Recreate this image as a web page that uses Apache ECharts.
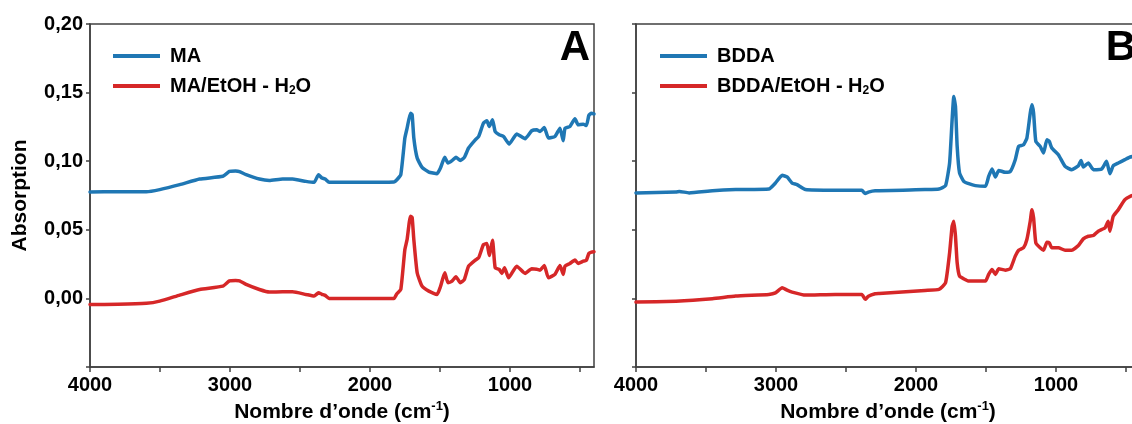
<!DOCTYPE html>
<html>
<head>
<meta charset="utf-8">
<script src="https://cdn.jsdelivr.net/npm/echarts@6/dist/echarts.min.js"></script>
<style>html,body{margin:0;padding:0;background:#fff}#c{width:1132px;height:424px}</style>
</head>
<body>
<div id="c"></div>
<script>
// ---- data (wavenumber cm-1, absorbance) ----
const maX = [4000,3800,3597,3502,3359,3217,3051,3004,2960,2932,2885,2790,2719,2624,2553,2458,2399,2368,2344,2320,2292,2100,2007,1829,1808,1780,1751,1735,1711,1699,1687,1663,1628,1580,1521,1497,1466,1443,1414,1386,1355,1326,1296,1248,1224,1189,1165,1148,1125,1106,1077,1046,1006,952,892,845,809,785,755,726,679,643,620,607,572,536,513,477,454,437,418,400];
const maY = [0.0776,0.0777,0.0777,0.0793,0.0829,0.0870,0.0890,0.0925,0.0928,0.0924,0.0902,0.0870,0.0860,0.0870,0.0870,0.0853,0.0846,0.0902,0.0878,0.0870,0.0846,0.0847,0.0846,0.0848,0.0865,0.0902,0.1169,0.1241,0.1350,0.1338,0.1169,0.1023,0.0955,0.0921,0.0909,0.0950,0.1028,0.0987,0.1004,0.1028,0.1006,0.1028,0.1096,0.1156,0.1180,0.1278,0.1295,0.1253,0.1302,0.1217,0.1193,0.1180,0.1125,0.1198,0.1164,0.1222,0.1229,0.1217,0.1246,0.1169,0.1180,0.1241,0.1149,0.1241,0.1253,0.1309,0.1265,0.1270,0.1260,0.1333,0.1350,0.1345];

const maEtX = [4000,3800,3597,3502,3359,3217,3051,3004,2960,2932,2885,2790,2719,2624,2553,2458,2399,2368,2344,2320,2292,2007,1829,1808,1780,1751,1735,1711,1699,1687,1663,1628,1580,1521,1497,1466,1443,1414,1386,1355,1326,1296,1248,1224,1189,1165,1148,1125,1106,1077,1058,1039,1010,952,892,845,809,785,755,726,679,643,620,607,572,536,513,477,454,437,418,400];
const maEtY = [-0.0044,-0.0043,-0.0036,-0.0020,0.0024,0.0065,0.0089,0.0128,0.0131,0.0128,0.0102,0.0065,0.0046,0.0048,0.0048,0.0029,0.0017,0.0041,0.0030,0.0022,0.0000,0.0000,0.0000,0.0034,0.0065,0.0356,0.0429,0.0599,0.0590,0.0429,0.0187,0.0089,0.0053,0.0029,0.0085,0.0187,0.0114,0.0126,0.0158,0.0114,0.0138,0.0235,0.0279,0.0296,0.0393,0.0400,0.0313,0.0424,0.0223,0.0211,0.0182,0.0223,0.0150,0.0235,0.0182,0.0216,0.0213,0.0206,0.0240,0.0150,0.0175,0.0240,0.0175,0.0235,0.0255,0.0279,0.0255,0.0271,0.0279,0.0327,0.0337,0.0340];

const bdX = [4000,3715,3690,3621,3454,3288,3051,3004,2956,2921,2885,2850,2790,2577,2387,2363,2340,2292,1936,1836,1789,1760,1742,1730,1718,1706,1689,1659,1623,1576,1504,1481,1457,1433,1409,1362,1326,1291,1267,1232,1208,1184,1172,1160,1144,1113,1089,1065,1048,1030,983,935,888,840,821,805,769,733,674,639,615,591,555,508,470,400];
const bdY = [0.0769,0.0776,0.0780,0.0769,0.0785,0.0793,0.0797,0.0841,0.0897,0.0885,0.0841,0.0829,0.0793,0.0788,0.0788,0.0764,0.0775,0.0785,0.0793,0.0797,0.0822,0.0987,0.1302,0.1471,0.1399,0.1108,0.0914,0.0853,0.0836,0.0822,0.0817,0.0889,0.0943,0.0885,0.0933,0.0919,0.0926,0.1011,0.1108,0.1120,0.1169,0.1350,0.1411,0.1350,0.1144,0.1108,0.1060,0.1156,0.1144,0.1096,0.1047,0.0962,0.0938,0.0967,0.1006,0.0958,0.0987,0.0938,0.0943,0.0999,0.0909,0.0967,0.0987,0.1011,0.1031,0.1040];

const bdEtX = [4000,3715,3454,3288,3051,3004,2956,2921,2885,2790,2577,2387,2363,2340,2292,2263,1936,1836,1789,1760,1742,1730,1718,1706,1689,1659,1623,1576,1504,1481,1457,1433,1409,1362,1326,1291,1267,1232,1208,1184,1172,1160,1144,1113,1089,1065,1048,1030,983,935,888,840,805,769,733,698,650,627,615,591,555,508,470,400];
const bdEtY = [-0.0027,-0.0020,-0.0002,0.0017,0.0029,0.0040,0.0078,0.0060,0.0046,0.0024,0.0029,0.0029,-0.0007,0.0015,0.0034,0.0036,0.0058,0.0065,0.0114,0.0332,0.0526,0.0562,0.0453,0.0260,0.0162,0.0143,0.0126,0.0126,0.0126,0.0175,0.0211,0.0175,0.0216,0.0206,0.0216,0.0308,0.0351,0.0369,0.0429,0.0562,0.0647,0.0587,0.0405,0.0369,0.0351,0.0409,0.0405,0.0369,0.0369,0.0351,0.0351,0.0385,0.0434,0.0453,0.0458,0.0490,0.0514,0.0562,0.0490,0.0599,0.0647,0.0720,0.0744,0.0770];

const xLabelValues = [1000,2000,3000,4000];
const xTickValues = [500,1000,1500,2000,2500,3000,3500,4000];
const yMin = -0.05, yMax = 0.20, yStep = 0.05;
const panelLetters = ['A','B'];
const names = ['MA','MA/EtOH - H2O','BDDA','BDDA/EtOH - H2O'];

// ---- chart ----
const FONT = '"Liberation Sans", Arial, sans-serif';
const AX = '#404040';
const BLUE = '#1f77b4', RED = '#d62728';
const zip = (xs, ys) => xs.map((x, i) => [x, ys[i]]);

const chart = echarts.init(document.getElementById('c'), null, {renderer: 'canvas'});

const nameRich = {
  n: {fontFamily: FONT, fontWeight: 'bold', fontSize: 21, color: '#000', lineHeight: 24, verticalAlign: 'middle'},
  sup: {fontFamily: FONT, fontWeight: 'bold', fontSize: 13, color: '#000', lineHeight: 14, verticalAlign: 'top'}
};
const legRich = {
  n: {fontFamily: FONT, fontWeight: 'bold', fontSize: 20, color: '#000', lineHeight: 22, verticalAlign: 'middle'},
  sub: {fontFamily: FONT, fontWeight: 'bold', fontSize: 12, color: '#000', lineHeight: 14, verticalAlign: 'bottom'}
};
const legFmt = n => n.indexOf('H2O') >= 0 ? '{n|' + n.replace('H2O', 'H') + '}{sub|2}{n|O}' : '{n|' + n + '}';

function xAxis(gi) {
  return {
    type: 'value', gridIndex: gi, inverse: true, min: 400, max: 4000,
    name: '{n|Nombre d’onde (cm}{sup|-1}{n|)}', nameLocation: 'middle', nameGap: 33,
    nameTextStyle: {rich: nameRich},
    axisLine: {show: true, onZero: false, lineStyle: {color: AX, width: 1.5}},
    axisTick: {show: true, inside: false, length: 5, customValues: xTickValues, lineStyle: {color: AX, width: 1.5}},
    axisLabel: {customValues: xLabelValues, margin: 8, fontFamily: FONT, fontWeight: 'bold', fontSize: 20, color: '#000',
      formatter: v => String(Math.round(v))},
    splitLine: {show: false}
  };
}
function yAxis(gi, showLabels) {
  return {
    type: 'value', gridIndex: gi, min: yMin, max: yMax, interval: yStep,
    name: showLabels ? 'Absorption' : '', nameLocation: 'middle', nameGap: 59, nameRotate: 90,
    nameTextStyle: {fontFamily: FONT, fontWeight: 'bold', fontSize: 21, color: '#000'},
    axisLine: {show: true, lineStyle: {color: AX, width: 1.5}},
    axisTick: {show: true, length: 4, lineStyle: {color: AX, width: 1.5}},
    axisLabel: {show: showLabels, margin: 7, fontFamily: FONT, fontWeight: 'bold', fontSize: 20, color: '#000',
      formatter: v => v < -1e-9 ? '' : v.toFixed(2).replace('.', ',')},
    splitLine: {show: false}
  };
}
function line(name, xi, data, color) {
  return {type: 'line', name, xAxisIndex: xi, yAxisIndex: xi, data, showSymbol: false, symbol: 'none',
    smooth: 0.15, lineStyle: {color, width: 3.5, join: 'round', cap: 'round'}, itemStyle: {color}, clip: true, animation: false, z: color === BLUE ? 3 : 2};
}
function legend(left, data) {
  return {left, top: 41, orient: 'vertical', data, itemWidth: 47, itemHeight: 14, itemGap: 10,
    icon: 'path://M0,0 L47,0 L47,4 L0,4 Z', formatter: legFmt,
    textStyle: {rich: legRich, padding: [0, 0, 0, 5]}, selectedMode: false};
}

chart.setOption({
  animation: false,
  backgroundColor: '#fff',
  grid: [
    {left: 90, top: 24, width: 504, height: 343, containLabel: false, outerBoundsMode: 'none', show: true, borderColor: AX, borderWidth: 1.5, backgroundColor: 'transparent'},
    {left: 636, top: 24, width: 504, height: 343, containLabel: false, outerBoundsMode: 'none', show: true, borderColor: AX, borderWidth: 1.5, backgroundColor: 'transparent'}
  ],
  xAxis: [xAxis(0), xAxis(1)],
  yAxis: [yAxis(0, true), yAxis(1, false)],
  legend: [legend(108, [names[0], names[1]]), legend(655, [names[2], names[3]])],
  series: [
    line(names[0], 0, zip(maX, maY), BLUE),
    line(names[1], 0, zip(maEtX, maEtY), RED),
    line(names[2], 1, zip(bdX, bdY), BLUE),
    line(names[3], 1, zip(bdEtX, bdEtY), RED)
  ],
  graphic: [
    {type: 'text', x: 590, y: 48, style: {text: panelLetters[0], font: 'bold 42px ' + FONT, fill: '#000', align: 'right', verticalAlign: 'middle'}},
    {type: 'text', x: 1136, y: 48, style: {text: panelLetters[1], font: 'bold 42px ' + FONT, fill: '#000', align: 'right', verticalAlign: 'middle'}}
  ]
});
</script>
</body>
</html>
